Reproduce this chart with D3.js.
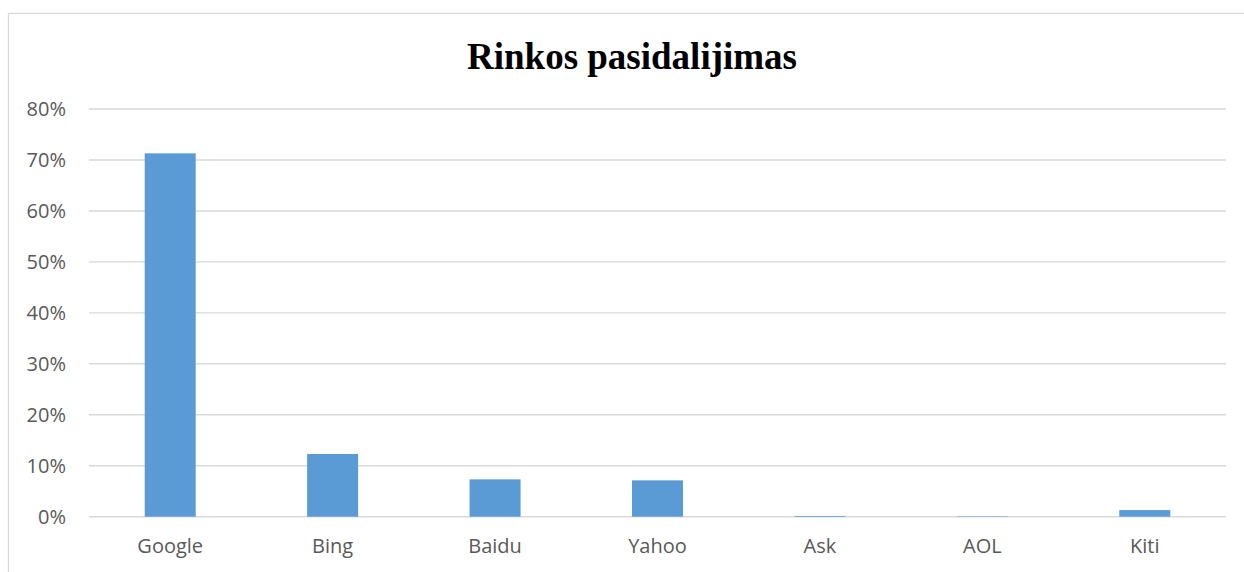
<!DOCTYPE html>
<html>
<head>
<meta charset="utf-8">
<script src="https://cdn.jsdelivr.net/npm/d3@7.9.0/dist/d3.min.js"></script>
<style>
  body { margin: 0; background: #fff; }
  svg { display: block; }
</style>
</head>
<body>
<svg id="chart" width="1244" height="572"></svg>
<script>
// Chart data
const categories = ['Google', 'Bing', 'Baidu', 'Yahoo', 'Ask', 'AOL', 'Kiti'];
const shares = [0.713, 0.123, 0.0733, 0.0713, 0.0015, 0.0008, 0.013];
const yTicks = [0, 0.1, 0.2, 0.3, 0.4, 0.5, 0.6, 0.7, 0.8];
const title = 'Rinkos pasidalijimas';

const svg = d3.select('#chart');

// Plot area
const plot = { left: 89, right: 1226, top: 109, bottom: 516.7 };

// Outer chart border (right and bottom run off the page)
svg.append('rect')
    .attr('x', 8.5)
    .attr('y', 13.5)
    .attr('width', 1300)
    .attr('height', 700)
    .attr('fill', 'none')
    .attr('stroke', '#d9d9d9')
    .attr('stroke-width', 1.3);

// Scales
let x = d3.scaleBand()
    .domain(categories)
    .range([plot.left, plot.right])
    .paddingInner(0.686)
    .paddingOuter(0.343);

let y = d3.scaleLinear()
    .domain([0, 0.8])
    .range([plot.bottom, plot.top]);

// Gridlines
svg.append('g')
    .selectAll('line')
    .data(yTicks)
    .join('line')
    .attr('x1', plot.left)
    .attr('x2', plot.right)
    .attr('y1', (d) => y(d))
    .attr('y2', (d) => y(d))
    .attr('stroke', '#d9d9d9')
    .attr('stroke-width', 1.4);

// Y axis labels
let yAxis = d3.axisLeft(y)
    .tickValues(yTicks)
    .tickFormat(d3.format('.0%'))
    .tickSize(0)
    .tickPadding(0);

svg.append('g')
    .attr('transform', 'translate(66,0)')
    .call(yAxis)
    .call((g) => g.select('.domain').remove())
    .selectAll('text')
    .attr('fill', '#595959')
    .attr('font-family', '"Open Sans", sans-serif')
    .attr('font-size', 20);

// Bars
svg.append('g')
    .selectAll('rect')
    .data(shares)
    .join('rect')
    .attr('x', (d, i) => x(categories[i]))
    .attr('y', (d) => y(d))
    .attr('width', x.bandwidth())
    .attr('height', (d) => y(0) - y(d))
    .attr('fill', '#5b9bd5');

// X axis labels
let xAxis = d3.axisBottom(x).tickSize(0).tickPadding(0);

svg.append('g')
    .attr('transform', 'translate(0,539)')
    .call(xAxis)
    .call((g) => g.select('.domain').remove())
    .selectAll('text')
    .attr('fill', '#595959')
    .attr('font-family', '"Open Sans", sans-serif')
    .attr('font-size', 20);

// Title
svg.append('text')
    .attr('x', 632)
    .attr('y', 69)
    .attr('text-anchor', 'middle')
    .attr('font-family', '"Liberation Serif", "Times New Roman", serif')
    .attr('font-weight', 'bold')
    .attr('font-size', 37)
    .attr('fill', '#000')
    .text(title);
</script>
</body>
</html>
